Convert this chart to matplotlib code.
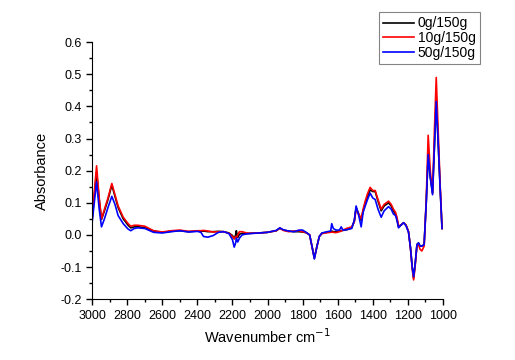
import matplotlib
matplotlib.use("Agg")
import matplotlib.pyplot as plt
from matplotlib.ticker import MultipleLocator, FormatStrFormatter

plt.rcParams['font.family'] = ['Liberation Sans', 'DejaVu Sans']

# wavenumbers (cm-1)
wn = [3000, 2990, 2975, 2960, 2947, 2930, 2910, 2888, 2870, 2852,
      2823, 2795, 2780, 2760, 2740, 2700, 2650, 2600, 2550, 2500,
      2450, 2400, 2380, 2365, 2340, 2310, 2280, 2250, 2220, 2200,
      2190, 2182, 2178, 2170, 2160, 2145, 2120, 2100, 2050, 2000,
      1950, 1930, 1910, 1880, 1850, 1820, 1800, 1780, 1760, 1745,
      1733, 1720, 1705, 1690, 1660, 1640, 1634, 1625, 1610, 1590,
      1580, 1570, 1550, 1520, 1505, 1495, 1480, 1466, 1455, 1443,
      1430, 1415, 1400, 1386, 1370, 1352, 1335, 1310, 1295, 1282,
      1270, 1262, 1253, 1240, 1224, 1210, 1196, 1185, 1175, 1167,
      1158, 1148, 1139, 1130, 1120, 1107, 1095, 1084, 1072, 1059,
      1048, 1038, 1028, 1016, 1005]

# 0g/150g
abs_0 = [0.05, 0.11, 0.195, 0.11, 0.048, 0.075, 0.11, 0.155, 0.12, 0.085,
         0.05, 0.03, 0.022, 0.025, 0.026, 0.022, 0.012, 0.008, 0.011, 0.013,
         0.01, 0.012, 0.011, 0.012, 0.01, 0.01, 0.011, 0.01, 0.006, -0.002,
         -0.012, 0.0, 0.013, -0.008, 0.002, 0.005, 0.004, 0.005, 0.006, 0.008,
         0.013, 0.021, 0.015, 0.012, 0.01, 0.01, 0.009, 0.007, 0.0, -0.04,
         -0.072, -0.04, -0.005, 0.005, 0.008, 0.01, 0.012, 0.01, 0.01, 0.012,
         0.013, 0.014, 0.016, 0.022, 0.045, 0.085, 0.065, 0.045, 0.075, 0.1,
         0.12, 0.14, 0.135, 0.135, 0.105, 0.075, 0.09, 0.1, 0.09, 0.075,
         0.065, 0.05, 0.025, 0.03, 0.038, 0.03, 0.01, -0.04, -0.1, -0.135,
         -0.09, -0.03, -0.025, -0.035, -0.035, -0.03, 0.1, 0.25, 0.18, 0.13,
         0.28, 0.42, 0.3, 0.15, 0.02]

# 10g/150g
abs_10 = [0.05, 0.12, 0.215, 0.115, 0.05, 0.08, 0.115, 0.16, 0.125, 0.09,
          0.055, 0.035, 0.027, 0.03, 0.03, 0.027, 0.013, 0.009, 0.013, 0.015,
          0.011, 0.013, 0.013, 0.014, 0.012, 0.009, 0.01, 0.01, 0.005, -0.005,
          -0.012, -0.005, -0.01, 0.0, 0.01, 0.01, 0.006, 0.005, 0.006, 0.008,
          0.013, 0.021, 0.014, 0.01, 0.012, 0.013, 0.01, 0.007, 0.0, -0.04,
          -0.073, -0.04, -0.005, 0.004, 0.007, 0.008, 0.009, 0.008, 0.007, 0.01,
          0.012, 0.015, 0.02, 0.025, 0.04, 0.08, 0.065, 0.05, 0.08, 0.105,
          0.128, 0.148, 0.138, 0.138, 0.11, 0.08, 0.095, 0.105, 0.095, 0.08,
          0.07, 0.055, 0.028, 0.03, 0.038, 0.03, 0.01, -0.04, -0.105, -0.14,
          -0.095, -0.035, -0.03, -0.045, -0.05, -0.035, 0.11, 0.31, 0.2, 0.13,
          0.33, 0.49, 0.34, 0.16, 0.02]

# 50g/150g
abs_50 = [0.04, 0.09, 0.165, 0.08, 0.025, 0.05, 0.085, 0.12, 0.095, 0.06,
          0.035, 0.018, 0.013, 0.02, 0.022, 0.02, 0.008, 0.006, 0.01, 0.013,
          0.009, 0.011, 0.008, -0.005, -0.007, -0.002, 0.008, 0.01, 0.004, -0.015,
          -0.038, -0.025, -0.01, -0.022, -0.01, 0.0, 0.003, 0.004, 0.006, 0.008,
          0.014, 0.022, 0.016, 0.012, 0.01, 0.015, 0.015, 0.008, 0.0, -0.04,
          -0.075, -0.04, -0.005, 0.006, 0.01, 0.012, 0.035, 0.02, 0.015, 0.015,
          0.025, 0.015, 0.016, 0.02, 0.045, 0.09, 0.06, 0.025, 0.07, 0.09,
          0.11, 0.13, 0.115, 0.11, 0.08, 0.055, 0.075, 0.088, 0.08, 0.065,
          0.06, 0.045, 0.022, 0.03, 0.038, 0.028, 0.008, -0.04, -0.1, -0.13,
          -0.09, -0.03, -0.025, -0.035, -0.035, -0.03, 0.1, 0.25, 0.18, 0.125,
          0.28, 0.415, 0.3, 0.15, 0.02]

labels = ["0g/150g", "10g/150g", "50g/150g"]
colors = ["black", "#ff0000", "#0000ff"]

fig = plt.figure(figsize=(5.15, 3.6), dpi=100)
ax = fig.add_axes([0.179, 0.169, 0.681, 0.714])

for y, lab, c in zip([abs_0, abs_10, abs_50], labels, colors):
    ax.plot(wn, y, color=c, lw=1.2, label=lab)

ax.set_xlim(3000, 1000)
ax.set_ylim(-0.2, 0.6)
ax.xaxis.set_major_locator(MultipleLocator(200))
ax.xaxis.set_minor_locator(MultipleLocator(100))
ax.yaxis.set_major_locator(MultipleLocator(0.1))
ax.yaxis.set_minor_locator(MultipleLocator(0.05))
ax.yaxis.set_major_formatter(FormatStrFormatter('%.1f'))

for s in ['top', 'right']:
    ax.spines[s].set_visible(False)
ax.tick_params(which='major', direction='out', length=4, width=1, labelsize=9)
ax.tick_params(which='minor', direction='out', length=2.5, width=1)

ax.set_xlabel("Wavenumber cm$^{-1}$", fontsize=10.5, labelpad=4)
ax.set_ylabel("Absorbance", fontsize=10.5, labelpad=8)

leg = fig.legend(loc='upper right', bbox_to_anchor=(0.932, 0.966),
                 fontsize=10, fancybox=False, edgecolor='0.4',
                 handlelength=2.2, labelspacing=0.05, borderpad=0.3,
                 handletextpad=0.3, borderaxespad=0)
leg.get_frame().set_linewidth(0.8)

fig.savefig("out.png", dpi=100)
